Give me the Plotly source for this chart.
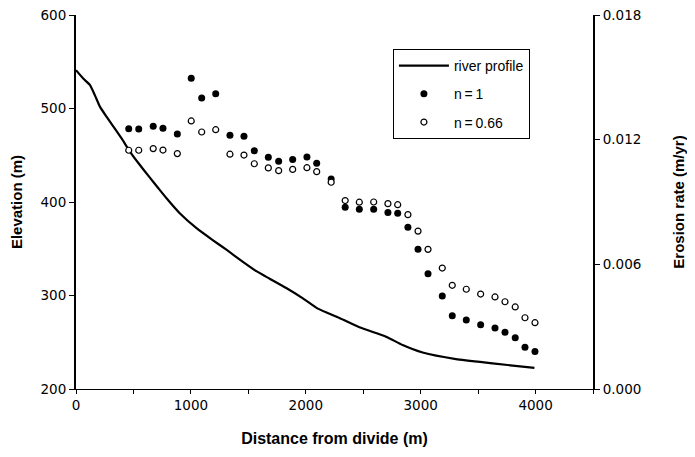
import plotly.graph_objects as go

# river long profile (distance m, elevation m)
profile_x = [0, 63, 122, 165, 208, 267, 324, 397, 469, 541, 643, 715, 788, 903,
             1049, 1193, 1309, 1453, 1570, 1685, 1830, 1975, 2105, 2293, 2467,
             2699, 2843, 3017, 3307, 3625, 3990]
profile_elev = [541, 532, 525, 514, 502, 491, 481, 468, 454, 442, 426, 415, 404, 388,
                372, 359, 349, 336, 326, 318, 308, 297, 286, 276, 266,
                256, 247, 239, 232, 227.5, 222.5]

# sample locations for the erosion rate points
dist = [459, 546, 672, 757, 882, 1003, 1094, 1216, 1340, 1462, 1552, 1674, 1764,
        1886, 2010, 2095, 2221, 2343, 2466, 2591, 2715, 2800, 2889, 2977, 3064,
        3188, 3275, 3397, 3522, 3647, 3734, 3823, 3908, 3995]

# erosion rate (m/yr), n = 1
rate_n1 = [0.01253, 0.01251, 0.01264, 0.01255, 0.01227, 0.01495, 0.01401, 0.01421,
           0.01221, 0.01216, 0.01147, 0.01115, 0.01096, 0.01104, 0.01117, 0.01086,
           0.01011, 0.00875, 0.00865, 0.00865, 0.00850, 0.00846, 0.00778, 0.00672,
           0.00555, 0.00448, 0.00353, 0.00332, 0.00309, 0.00294, 0.00273, 0.00247,
           0.00201, 0.00180]

# erosion rate (m/yr), n = 0.66
rate_n066 = [0.01149, 0.01149, 0.01157, 0.01150, 0.01133, 0.01290, 0.01237, 0.01248,
             0.01130, 0.01126, 0.01084, 0.01064, 0.01051, 0.01057, 0.01065, 0.01046,
             0.00995, 0.00907, 0.00899, 0.00900, 0.00892, 0.00887, 0.00839, 0.00760,
             0.00672, 0.00582, 0.00499, 0.00480, 0.00457, 0.00443, 0.00420, 0.00395,
             0.00343, 0.00319]

FONT = "Liberation Sans, Arial, sans-serif"
TICKFONT = dict(family="DejaVu Sans, sans-serif", size=13.5, color='black')

fig = go.Figure()

fig.add_trace(go.Scatter(
    x=profile_x, y=profile_elev, mode='lines', name='river profile',
    line=dict(color='black', width=2.2, shape='spline', smoothing=0.5),
    legendgroup='a'))

fig.add_trace(go.Scatter(
    x=dist, y=rate_n1, mode='markers', name='n\u2009=\u20091', yaxis='y2',
    marker=dict(symbol='circle', size=7, color='black'),
    legendgroup='b'))

fig.add_trace(go.Scatter(
    x=dist, y=rate_n066, mode='markers', name='n\u2009=\u20090.66', yaxis='y2',
    marker=dict(symbol='circle', size=6, color='white',
                line=dict(color='black', width=1.2)),
    legendgroup='c'))

# page body has an 8px margin, so the figure is sized/placed to compensate
fig.update_layout(
    width=679, height=441,
    margin=dict(l=68, r=94, t=7, b=60),
    paper_bgcolor='white', plot_bgcolor='white',
    font=dict(family=FONT, size=14, color='black'),
    xaxis=dict(
        range=[0, 4500], tick0=0, dtick=1000, automargin=False,
        showline=True, linecolor='black', linewidth=1,
        ticks='outside', ticklen=4, tickcolor='black', tickfont=TICKFONT,
        ticklabeloverflow='allow',
        minor=dict(dtick=500, ticks='outside', ticklen=4, tickcolor='black'),
        showgrid=False, zeroline=False,
        title=dict(text='<b>Distance from divide (m)</b>', standoff=20,
                   font=dict(size=16))),
    yaxis=dict(
        range=[200, 600], dtick=100, automargin=False,
        showline=True, linecolor='black', linewidth=2,
        ticks='outside', ticklen=5, tickcolor='black', tickfont=TICKFONT,
        ticklabeloverflow='allow',
        showgrid=False, zeroline=False,
        title=dict(text='<b>Elevation (m)</b>', standoff=16,
                   font=dict(size=15))),
    yaxis2=dict(
        range=[0, 0.018], dtick=0.006, tickformat='.3f', automargin=False,
        overlaying='y', side='right',
        showline=True, linecolor='black', linewidth=2,
        ticks='outside', ticklen=5, tickcolor='black', tickfont=TICKFONT,
        ticklabeloverflow='allow',
        showgrid=False, zeroline=False,
        title=dict(text='<b>Erosion rate (m/yr)</b>', standoff=34,
                   font=dict(size=15))),
    legend=dict(
        x=0.613, y=0.909, xanchor='left', yanchor='top',
        bordercolor='black', borderwidth=1, bgcolor='white',
        font=dict(size=14), tracegroupgap=7, itemwidth=50),
    showlegend=True,
)

fig.write_html("out.html")
